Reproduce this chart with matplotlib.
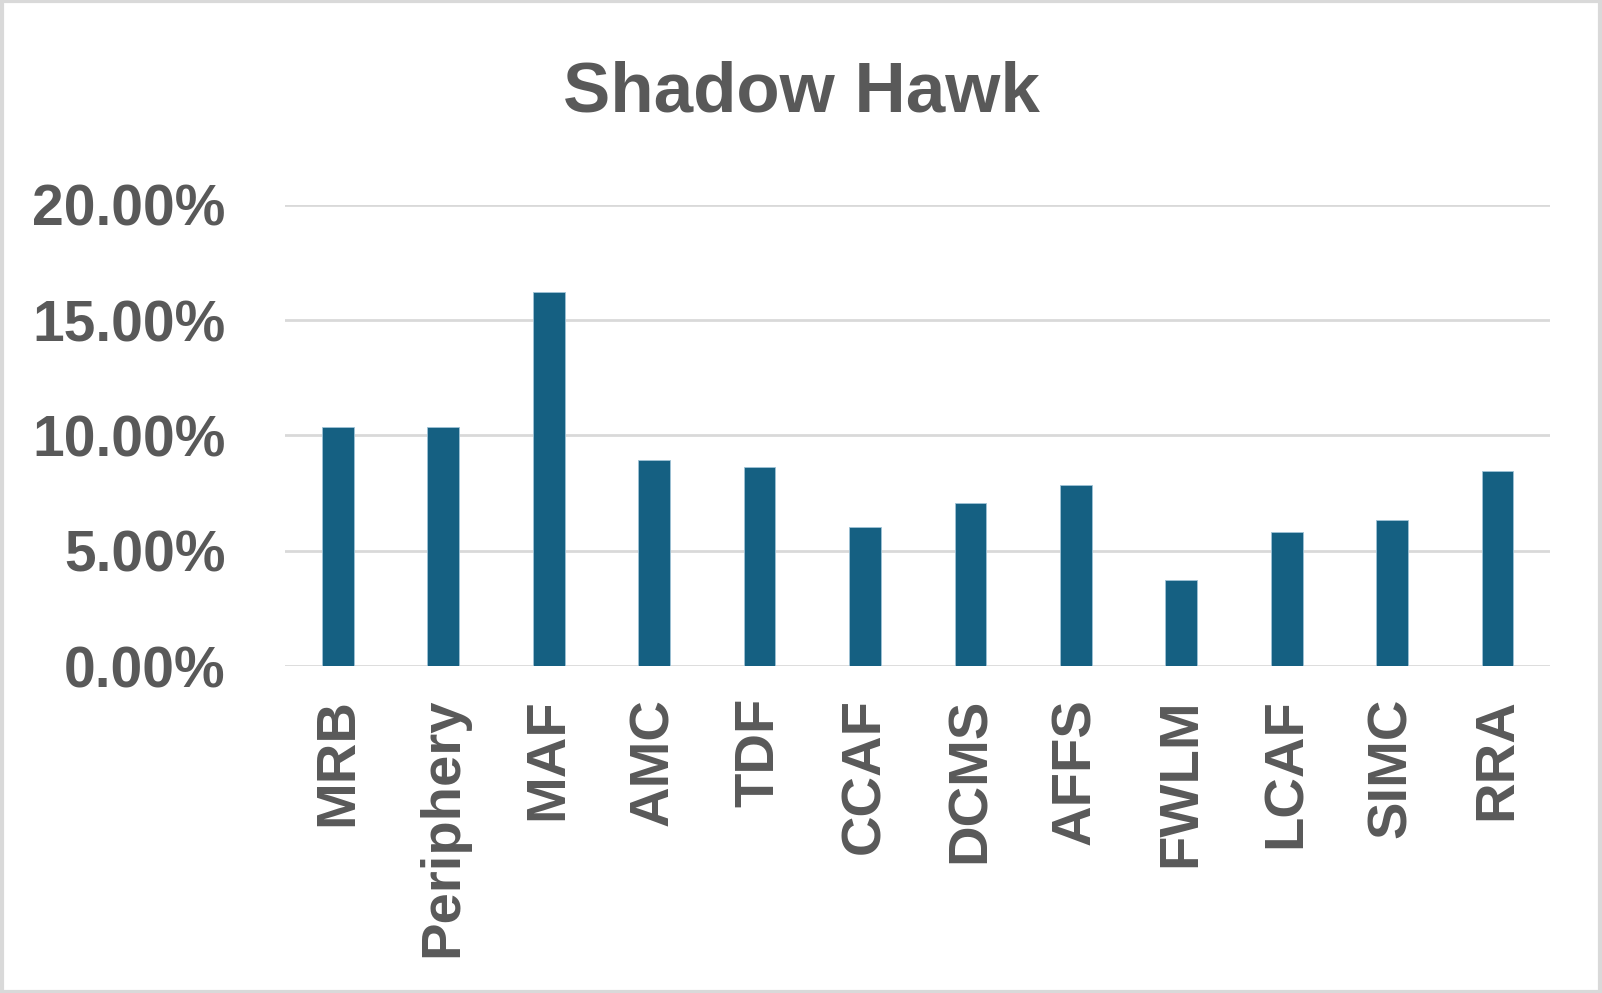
import matplotlib.pyplot as plt
from matplotlib.ticker import PercentFormatter
from matplotlib.patches import Rectangle

# category names and shares (percent)
categories = ['MRB', 'Periphery', 'MAF', 'AMC', 'TDF', 'CCAF',
              'DCMS', 'AFFS', 'FWLM', 'LCAF', 'SIMC', 'RRA']
shares = [10.36, 10.36, 16.21, 8.93, 8.63, 6.05,
          7.06, 7.85, 3.72, 5.80, 6.33, 8.45]
yticks = [0, 5, 10, 15, 20]

text_col = '#595959'
grid_col = '#D9D9D9'
bar_col = '#156082'

plt.rcParams['font.family'] = ['Liberation Sans', 'DejaVu Sans']

fig = plt.figure(figsize=(16.02, 9.93), dpi=100)
ax = fig.add_axes([0.178, 0.3293, 0.7897, 0.4643])

x = range(len(categories))
ax.bar(x, shares, width=0.3, color=bar_col, edgecolor='#9fc3d6', linewidth=0.6, zorder=3)

ax.set_xlim(-0.5, len(categories) - 0.5)
ax.set_ylim(0, 20)
ax.set_yticks(yticks)
ax.yaxis.set_major_formatter(PercentFormatter(decimals=2))
ax.grid(axis='y', color=grid_col, linewidth=2, zorder=0)
for s in ax.spines.values():
    s.set_visible(False)

ax.set_xticks(list(x))
ax.set_xticklabels(categories, rotation=90, fontsize=40.5, fontweight='bold',
                   color=text_col, va='top')
for lbl in ax.get_yticklabels():
    lbl.set_fontsize(41)
    lbl.set_fontweight('bold')
    lbl.set_color(text_col)
ax.tick_params(axis='both', length=0)
ax.tick_params(axis='y', pad=43)
ax.tick_params(axis='x', pad=23)

fig.text(0.5, 0.906, 'Shadow Hawk', ha='center', va='center', fontsize=51,
         fontweight='bold', color=text_col)

# light frame around the whole chart
fig.patches.append(Rectangle((0.001, 0.0015), 0.998, 0.997, transform=fig.transFigure,
                             fill=False, edgecolor=grid_col, linewidth=3))

fig.savefig('out.png', dpi=100)
